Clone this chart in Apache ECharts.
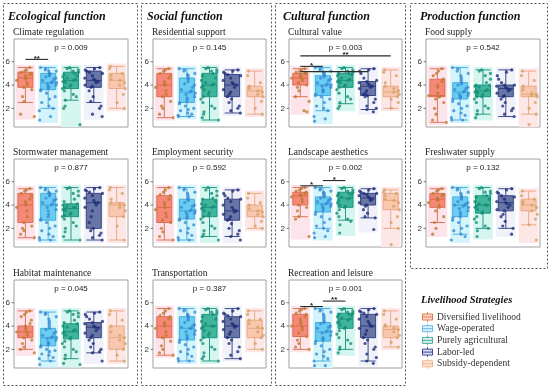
<!DOCTYPE html>
<html><head><meta charset="utf-8">
<script src="https://cdn.jsdelivr.net/npm/echarts@6/dist/echarts.min.js"></script>
<style>html,body{margin:0;padding:0;background:#fff}#c{width:550px;height:391px}</style>
</head><body><div id="c"></div>
<script>
// ---------------- DATA ----------------
const groupNames = ['Diversified livelihood','Wage-operated','Purely agricultural','Labor-led','Subsidy-dependent'];
const columnTitles = ['Ecological function','Social function','Cultural function','Production function'];
const panelTitles = ['Climate regulation','Stormwater management','Habitat maintenance','Residential support','Employment security','Transportation','Cultural value','Landscape aesthetics','Recreation and leisure','Food supply','Freshwater supply'];
const pValues = ['p = 0.009','p = 0.877','p = 0.045','p = 0.145','p = 0.592','p = 0.387','p = 0.003','p = 0.002','p = 0.001','p = 0.542','p = 0.132'];
const yTicks = [2,4,6];
const legendTitle = 'Livelihood Strategies';

const boxClimate = [[2.5,3.8,4.6,5.1,5.5],[2.0,3.6,4.2,5.0,5.5],[2.7,3.7,4.4,5.1,5.5],[2.5,3.8,4.4,5.2,5.5],[2.0,3.7,4.4,5.0,5.6]];
const ptsClimate = [
 [5.5,5.3,5.2,5.1,5.0,4.9,4.8,4.6,4.5,4.4,4.2,4.0,3.8,3.6,3.0,2.6,1.5,1.3],
 [5.5,5.4,5.3,5.2,5.2,5.0,5.0,4.9,4.8,4.7,4.6,4.5,4.4,4.3,4.2,4.2,4.1,4.0,3.9,3.8,3.7,3.6,3.5,3.3,3.0,2.8,2.5,2.2,2.0,1.8,1.3,1.0],
 [5.5,5.4,5.3,5.2,5.1,5.0,4.9,4.8,4.7,4.6,4.5,4.4,4.4,4.3,4.2,4.0,3.9,3.8,3.7,3.5,3.2,3.0,2.7,2.2,2.0,0.6],
 [5.5,5.4,5.3,5.2,5.1,5.0,4.8,4.6,4.5,4.4,4.3,4.2,4.0,3.9,3.8,3.5,3.0,2.6,2.2,2.0,1.5,1.3],
 [5.6,5.4,5.0,4.8,4.5,4.4,4.2,4.0,3.7,3.2,2.5,2.0]];
const sigClimate = [[0,1,6.2,'**']];

const boxStorm = [[1.2,2.5,4.0,5.0,5.4],[1.0,2.7,4.0,5.0,5.5],[1.0,3.0,3.7,4.1,5.5],[1.0,2.0,4.2,5.0,5.5],[1.0,3.0,4.0,4.2,5.5]];
const ptsStorm = [
 [5.4,5.3,5.2,5.0,4.8,4.5,4.3,4.1,4.0,3.8,3.5,3.0,2.5,2.2,2.0,1.8,1.5,1.2],
 [5.5,5.4,5.3,5.2,5.1,5.0,5.0,4.9,4.8,4.6,4.5,4.4,4.2,4.1,4.0,4.0,3.8,3.6,3.5,3.2,3.0,2.8,2.7,2.5,2.2,2.0,1.8,1.5,1.3,1.2,1.0,1.0],
 [5.5,5.4,5.2,5.0,4.8,4.5,4.3,4.1,4.0,3.9,3.8,3.8,3.7,3.6,3.5,3.3,3.2,3.1,3.0,2.8,2.5,2.2,2.0,1.7,1.3,1.0],
 [5.5,5.4,5.3,5.2,5.1,5.0,4.8,4.6,4.4,4.2,4.2,4.0,3.8,3.5,3.0,2.5,2.0,1.8,1.6,1.4,1.2,1.0],
 [5.5,5.3,5.0,4.5,4.2,4.1,4.0,3.8,3.5,3.0,2.2,1.0]];
const sigStorm = [];

const boxHabitat = [[2.0,3.0,3.5,4.0,5.3],[1.0,2.3,3.0,3.8,5.2],[1.2,2.9,3.5,4.2,5.3],[1.7,3.0,3.9,4.3,5.2],[1.0,2.0,3.0,4.0,5.3]];
const ptsHabitat = [
 [5.3,5.2,5.0,4.8,4.5,4.2,4.0,3.8,3.6,3.5,3.4,3.2,3.0,2.8,2.5,2.2,2.0,1.7],
 [5.2,5.1,5.0,4.8,4.6,4.4,4.2,4.0,3.8,3.7,3.5,3.4,3.2,3.1,3.0,3.0,2.9,2.8,2.6,2.5,2.4,2.3,2.2,2.0,1.9,1.8,1.6,1.5,1.3,1.2,1.0,0.7],
 [5.3,5.2,5.1,5.0,4.8,4.5,4.3,4.2,4.0,3.9,3.7,3.6,3.5,3.4,3.2,3.0,2.9,2.7,2.5,2.2,2.0,1.8,1.5,1.2,0.8,0.7],
 [5.2,5.1,5.0,4.8,4.6,4.4,4.3,4.2,4.0,3.9,3.8,3.6,3.4,3.2,3.0,2.8,2.5,2.2,2.0,1.8,1.7,1.0],
 [5.3,5.0,4.5,4.0,3.5,3.2,3.0,2.8,2.5,2.0,1.5,1.0]];
const sigHabitat = [];

const boxResidential = [[1.2,3.0,4.0,5.0,5.4],[1.3,2.5,3.4,4.6,5.4],[1.0,3.0,4.0,5.0,5.5],[1.6,3.0,4.0,4.9,5.3],[1.5,3.0,3.5,3.9,5.2]];
const ptsResidential = [
 [5.4,5.3,5.2,5.0,4.8,4.6,4.3,4.1,4.0,3.8,3.5,3.2,3.0,2.6,2.2,2.0,1.5,1.2],
 [5.4,5.3,5.2,5.0,4.9,4.8,4.6,4.5,4.3,4.1,4.0,3.8,3.6,3.5,3.4,3.3,3.2,3.0,2.9,2.8,2.6,2.5,2.4,2.2,2.0,1.9,1.8,1.6,1.5,1.4,1.3,1.3],
 [5.5,5.4,5.3,5.2,5.1,5.0,4.8,4.6,4.4,4.2,4.1,4.0,3.9,3.8,3.6,3.4,3.2,3.0,2.8,2.5,2.2,2.0,1.7,1.5,1.2,1.0],
 [5.3,5.2,5.1,5.0,4.9,4.8,4.6,4.4,4.2,4.1,4.0,3.8,3.6,3.4,3.2,3.0,2.8,2.5,2.2,2.0,1.8,1.6],
 [5.2,4.8,4.2,3.9,3.7,3.5,3.4,3.2,3.0,2.6,2.0,1.5]];
const sigResidential = [];

const boxEmployment = [[1.0,2.5,3.8,4.8,5.5],[1.0,2.8,3.5,4.5,5.5],[1.3,3.0,3.8,4.5,5.5],[1.3,2.7,3.5,4.5,5.3],[2.0,3.0,3.5,4.0,5.0]];
const ptsEmployment = [
 [5.5,5.3,5.1,4.9,4.8,4.5,4.2,4.0,3.8,3.6,3.3,3.0,2.7,2.5,2.0,1.7,1.3,1.0],
 [5.5,5.4,5.3,5.1,5.0,4.8,4.6,4.5,4.4,4.2,4.0,3.9,3.8,3.6,3.5,3.5,3.4,3.3,3.2,3.0,2.9,2.8,2.7,2.5,2.3,2.0,1.8,1.6,1.4,1.2,1.0,1.0],
 [5.5,5.3,5.2,5.0,4.8,4.6,4.5,4.3,4.1,4.0,3.9,3.8,3.8,3.7,3.5,3.3,3.1,3.0,2.8,2.5,2.2,2.0,1.8,1.5,1.3,1.0],
 [5.3,5.2,5.0,4.8,4.6,4.5,4.3,4.0,3.8,3.6,3.5,3.4,3.2,3.0,2.8,2.7,2.4,2.0,1.8,1.5,1.3,1.0],
 [5.0,4.6,4.2,4.0,3.7,3.5,3.4,3.2,3.0,2.6,2.2,2.0]];
const sigEmployment = [];

const boxTransport = [[1.5,3.0,4.0,4.8,5.5],[1.0,2.8,3.8,4.8,5.5],[1.0,3.0,4.0,5.0,5.5],[1.2,3.0,4.0,4.8,5.5],[2.0,3.0,3.8,4.5,5.3]];
const ptsTransport = [
 [5.5,5.3,5.1,4.9,4.8,4.6,4.3,4.1,4.0,3.8,3.5,3.2,3.0,2.7,2.3,2.0,1.7,1.5],
 [5.5,5.4,5.3,5.2,5.0,4.9,4.8,4.7,4.5,4.3,4.1,4.0,3.9,3.8,3.8,3.6,3.5,3.3,3.2,3.0,2.9,2.8,2.6,2.4,2.2,2.0,1.8,1.6,1.4,1.2,1.0,1.0],
 [5.5,5.4,5.3,5.2,5.1,5.0,4.8,4.6,4.4,4.2,4.0,4.0,3.9,3.8,3.6,3.4,3.2,3.0,2.8,2.5,2.2,2.0,1.7,1.4,1.2,1.0],
 [5.5,5.3,5.1,5.0,4.9,4.8,4.6,4.4,4.2,4.1,4.0,3.9,3.7,3.5,3.3,3.0,2.8,2.5,2.2,1.8,1.5,1.2],
 [5.3,5.0,4.6,4.5,4.2,3.9,3.8,3.5,3.2,3.0,2.5,2.0]];
const sigTransport = [];

const boxCultural = [[3.0,4.0,4.6,5.0,5.4],[1.8,3.1,4.0,4.8,5.5],[2.4,3.8,4.4,5.0,5.5],[1.9,3.1,3.9,4.3,5.4],[2.0,3.0,3.4,3.9,5.3]];
const ptsCultural = [
 [5.4,5.3,5.2,5.1,5.0,5.0,4.9,4.8,4.7,4.6,4.5,4.4,4.2,4.0,3.8,3.5,3.0,2.6,1.8,1.7],
 [5.5,5.4,5.3,5.2,5.1,5.0,4.9,4.8,4.7,4.6,4.5,4.4,4.2,4.1,4.0,4.0,3.9,3.8,3.6,3.5,3.4,3.2,3.1,3.0,2.8,2.5,2.2,2.0,1.8,1.3,1.1,0.9],
 [5.5,5.4,5.3,5.2,5.1,5.0,5.0,4.9,4.8,4.6,4.5,4.4,4.4,4.3,4.2,4.0,3.9,3.8,3.6,3.3,3.0,2.8,2.5,2.2,2.0],
 [5.4,5.3,5.2,5.0,4.6,4.4,4.3,4.2,4.1,4.0,3.9,3.8,3.7,3.5,3.3,3.2,3.1,3.0,2.8,2.5,2.2,2.0,1.9,1.7],
 [5.3,5.1,4.8,4.2,3.9,3.7,3.5,3.4,3.2,3.0,2.8,2.5,2.0]];
const sigCultural = [[0,3,5.15,''],[0,1,5.6,'*'],[0,4,6.5,'**']];

const boxLandscape = [[3.0,4.0,4.8,5.1,5.5],[2.0,3.4,4.1,4.7,5.5],[2.7,3.8,4.6,5.1,5.5],[2.9,4.0,4.6,5.0,5.4],[2.0,3.6,4.4,5.0,5.3]];
const ptsLandscape = [
 [5.5,5.4,5.3,5.2,5.1,5.0,4.9,4.8,4.8,4.7,4.5,4.3,4.0,3.8,3.5,3.0,2.8,1.3],
 [5.5,5.4,5.3,5.2,5.1,5.0,4.9,4.8,4.7,4.6,4.5,4.4,4.3,4.2,4.1,4.1,4.0,3.9,3.8,3.7,3.5,3.4,3.2,3.0,2.8,2.5,2.2,2.0,1.8,1.6,1.3,1.2],
 [5.5,5.4,5.3,5.2,5.1,5.0,5.0,4.9,4.8,4.7,4.6,4.5,4.4,4.2,4.0,3.9,3.8,3.6,3.3,3.0,2.8,2.6,2.3,1.6],
 [5.4,5.3,5.2,5.1,5.0,5.0,4.9,4.8,4.7,4.6,4.5,4.4,4.2,4.0,3.9,3.6,3.3,3.0,2.9,1.9],
 [5.3,5.1,5.0,4.8,4.5,4.4,4.2,3.9,3.6,3.0,2.5,2.0,0.6]];
const sigLandscape = [[0,1,5.65,'*'],[1,2,6.1,'*']];

const boxRecreation = [[2.0,3.1,4.0,5.0,5.5],[1.0,2.7,3.5,4.3,5.5],[2.0,3.8,4.6,5.1,5.5],[1.0,3.0,4.0,5.0,5.5],[2.2,3.0,3.7,4.0,5.3]];
const ptsRecreation = [
 [5.5,5.4,5.3,5.1,5.0,4.8,4.6,4.4,4.2,4.0,3.9,3.7,3.4,3.1,2.8,2.5,2.2,2.0],
 [5.5,5.4,5.3,5.2,5.0,4.8,4.6,4.4,4.3,4.2,4.0,3.9,3.8,3.6,3.5,3.5,3.4,3.2,3.0,2.9,2.8,2.7,2.5,2.3,2.0,1.8,1.6,1.4,1.2,1.0,0.6,0.6],
 [5.5,5.4,5.3,5.2,5.1,5.0,5.0,4.9,4.8,4.7,4.6,4.5,4.4,4.3,4.1,3.9,3.8,3.6,3.3,3.0,2.8,2.5,2.2,2.0,1.7],
 [5.5,5.4,5.3,5.2,5.1,5.0,4.8,4.6,4.4,4.2,4.0,4.0,3.8,3.6,3.3,3.0,2.8,2.5,2.2,2.0,1.6,1.3,1.0,0.8],
 [5.3,5.0,4.6,4.1,4.0,3.8,3.7,3.5,3.2,3.0,2.6,2.2]];
const sigRecreation = [[0,1,5.67,'*'],[1,2,6.14,'**']];

const boxFood = [[0.8,3.0,3.1,4.5,5.4],[1.0,2.8,3.4,4.2,5.5],[1.5,3.0,3.5,4.0,5.3],[1.3,3.0,3.7,4.0,5.3],[1.5,3.0,3.2,3.9,5.2]];
const ptsFood = [
 [5.4,5.2,5.0,4.8,4.5,4.3,4.0,3.8,3.3,3.1,3.0,3.0,2.8,2.5,2.0,1.5,1.0,0.8],
 [5.5,5.4,5.2,5.0,4.8,4.6,4.4,4.2,4.1,4.0,3.8,3.7,3.6,3.5,3.4,3.3,3.2,3.1,3.0,3.0,2.9,2.8,2.6,2.4,2.2,2.0,1.8,1.6,1.4,1.2,1.0,1.0],
 [5.3,5.2,5.0,4.8,4.5,4.2,4.0,4.0,3.9,3.8,3.6,3.5,3.5,3.4,3.3,3.2,3.0,3.0,2.8,2.5,2.2,2.0,1.8,1.5,1.2],
 [5.3,5.1,4.8,4.5,4.2,4.0,4.0,3.9,3.8,3.7,3.6,3.5,3.3,3.1,3.0,2.8,2.5,2.2,2.0,1.8,1.5,1.3],
 [5.2,4.8,4.4,3.9,3.6,3.3,3.2,3.1,3.0,2.5,2.0,1.5,0.6]];
const sigFood = [];

const boxFreshwater = [[2.5,3.8,4.5,5.0,5.4],[1.5,3.0,4.0,4.7,5.5],[2.0,3.3,4.0,4.8,5.5],[2.0,3.5,4.2,4.8,5.4],[2.3,3.5,4.0,4.5,5.2]];
const ptsFreshwater = [
 [5.4,5.3,5.2,5.0,4.9,4.8,4.6,4.5,4.4,4.2,4.0,3.8,3.5,3.0,2.5,2.0,1.5],
 [5.5,5.4,5.3,5.1,5.0,4.8,4.7,4.6,4.5,4.3,4.2,4.1,4.0,4.0,3.9,3.8,3.7,3.5,3.4,3.2,3.0,2.9,2.7,2.5,2.2,2.0,1.8,1.5,1.3,1.0],
 [5.5,5.4,5.2,5.1,5.0,4.8,4.7,4.5,4.3,4.1,4.0,4.0,3.9,3.8,3.6,3.4,3.3,3.0,2.8,2.5,2.2,2.0,1.8,1.3],
 [5.4,5.3,5.1,5.0,4.8,4.7,4.5,4.3,4.2,4.1,4.0,3.8,3.6,3.5,3.2,3.0,2.6,2.2,2.0,1.5],
 [5.2,4.8,4.5,4.3,4.1,4.0,3.8,3.5,3.2,2.8,2.3,1.0]];
const sigFreshwater = [];

// ---------------- STYLE / LAYOUT ----------------
const boxFill   = ['rgba(244,128,108,0.92)','rgba(86,196,238,0.85)','rgba(36,170,140,0.85)','rgba(80,96,150,0.85)','rgba(248,196,168,0.92)'];
const boxBorder = ['#d8694a','#3ea6dc','#14907a','#2c3a7e','#e7a47e'];
const ptColor   = ['#bf7a2e','#3a8ad6','#178d78','#1e2c7c','#d6a266'];
const bandColor = ['#fde3ea','#d3f4fb','#d4f6ef','#f1f2f9','#fde6e6'];
const legBorder = ['#e0703c','#62b6e6','#3aa896','#2b3b8c','#f0aa80'];
const legFill   = ['#fbd9cc','#d8eefa','#d6efea','#d8dcef','#fde5d6'];

const panels = [
 {box:boxClimate, pts:ptsClimate, sig:sigClimate},
 {box:boxStorm, pts:ptsStorm, sig:sigStorm},
 {box:boxHabitat, pts:ptsHabitat, sig:sigHabitat},
 {box:boxResidential, pts:ptsResidential, sig:sigResidential},
 {box:boxEmployment, pts:ptsEmployment, sig:sigEmployment},
 {box:boxTransport, pts:ptsTransport, sig:sigTransport},
 {box:boxCultural, pts:ptsCultural, sig:sigCultural},
 {box:boxLandscape, pts:ptsLandscape, sig:sigLandscape},
 {box:boxRecreation, pts:ptsRecreation, sig:sigRecreation},
 {box:boxFood, pts:ptsFood, sig:sigFood},
 {box:boxFreshwater, pts:ptsFreshwater, sig:sigFreshwater}
];
const panelCol = [0,0,0,1,1,1,2,2,2,3,3];
const panelRow = [0,1,2,0,1,2,0,1,2,0,1];
const colLeft = [14,153,289,426];
const colWidth = [114,113,113,114];
const rowTop = [39,159,280];
const plotH = 88;
const Y_MIN = 0.4, Y_MAX = 7.95;

const serif = '"Liberation Serif","Times New Roman",serif';
const sans = '"Liberation Sans",Arial,sans-serif';

// deterministic horizontal jitter (position only, not data)
function jit(k, g){ const s = Math.sin((k + 1) * 12.9898 + (g + 1) * 78.233) * 43758.5453; return ((s - Math.floor(s)) - 0.5) * 0.8; }

const grid = [], xAxis = [], yAxis = [], series = [], graphic = [];

panels.forEach((p, k) => {
  const L = colLeft[panelCol[k]], T = rowTop[panelRow[k]], W = colWidth[panelCol[k]];
  grid.push({left:L, top:T, width:W, height:plotH, show:true, borderColor:'#a0a0a0', borderWidth:1, backgroundColor:'#fff'});
  xAxis.push({type:'category', gridIndex:k, data:groupNames, show:false});
  xAxis.push({type:'value', gridIndex:k, min:-0.5, max:4.5, show:false});
  yAxis.push({type:'value', gridIndex:k, min:Y_MIN, max:Y_MAX,
    splitLine:{show:false}, axisLine:{show:false}, axisTick:{show:false},
    axisLabel:{customValues:yTicks, fontSize:8, color:'#333', margin:4, fontFamily:sans}});
  // y tick marks at the left edge of the panel
  series.push({type:'custom', xAxisIndex:2*k+1, yAxisIndex:k, silent:true, clip:false, z:6,
    data:yTicks.map(v => [-0.5, v]),
    renderItem:(params, api) => {
      const c = api.coord([api.value(0), api.value(1)]);
      return {type:'line', shape:{x1:c[0] - 2.5, y1:c[1], x2:c[0], y2:c[1]}, style:{stroke:'#555', lineWidth:0.8}};
    }});
  // background bands spanning each group's data range
  const bands = p.pts.map((arr, g) => [g, Math.max(Y_MIN, Math.min(...arr) - 0.25), Math.min(Y_MAX, Math.max(...arr) + 0.25)]);
  series.push({type:'custom', xAxisIndex:2*k+1, yAxisIndex:k, silent:true, data:bands,
    renderItem:(params, api) => {
      const g = api.value(0);
      const a = api.coord([g - 0.43, api.value(2)]), b = api.coord([g + 0.43, api.value(1)]);
      return {type:'rect', shape:{x:a[0], y:a[1], width:b[0]-a[0], height:b[1]-a[1]}, style:{fill:bandColor[g]}};
    }});
  series.push({type:'boxplot', xAxisIndex:2*k, yAxisIndex:k, silent:true, boxWidth:[15,15],
    data:p.box.map((v, g) => ({value:v, itemStyle:{color:boxFill[g], borderColor:boxBorder[g], borderWidth:0.9}}))});
  const pts = [];
  p.pts.forEach((arr, g) => arr.forEach((y, i) => pts.push({value:[g + jit(i, g), y], itemStyle:{color:ptColor[g]}})));
  series.push({type:'scatter', xAxisIndex:2*k+1, yAxisIndex:k, silent:true, symbolSize:3.2, data:pts});
  if (p.sig.length) {
    const sig = p.sig;
    series.push({type:'custom', xAxisIndex:2*k+1, yAxisIndex:k, silent:true, z:5,
      data:sig.map(s => [s[0], s[1], s[2]]),
      renderItem:(params, api) => {
        const a = api.coord([api.value(0), api.value(2)]), b = api.coord([api.value(1), api.value(2)]);
        const lab = sig[params.dataIndex][3];
        return {type:'group', children:[
          {type:'line', shape:{x1:a[0], y1:a[1], x2:b[0], y2:b[1]}, style:{stroke:'#2b2b2b', lineWidth:1.1}},
          {type:'text', style:{text:lab, x:(a[0]+b[0])/2, y:a[1]+3, align:'center', verticalAlign:'bottom', font:'bold 8px ' + sans, fill:'#222'}}
        ]};
      }});
  }
  graphic.push({type:'text', x:L - 1, y:T - 7, style:{text:panelTitles[k], font:'9.5px ' + serif, fill:'#222', verticalAlign:'middle'}});
  graphic.push({type:'text', x:L + W/2, y:T + 9, style:{text:pValues[k], font:'8px ' + sans, fill:'#222', align:'center', verticalAlign:'middle'}});
});

const frames = [[3,3,134,382],[141,3,130,382],[275,3,130,382],[410,3,137,265]];
frames.forEach((f, c) => {
  graphic.push({type:'rect', shape:{x:f[0]+0.5, y:f[1]+0.5, width:f[2], height:f[3]}, style:{fill:'none', stroke:'#555', lineWidth:1, lineDash:[2,2]}});
  graphic.push({type:'text', x:colLeft[c] - 6, y:17, style:{text:columnTitles[c], font:'italic bold 12px ' + serif, fill:'#111', verticalAlign:'middle'}});
});

graphic.push({type:'text', x:421, y:300, style:{text:legendTitle, font:'italic bold 10.5px ' + serif, fill:'#111', verticalAlign:'middle'}});
groupNames.forEach((n, g) => {
  const y = 317 + g * 11.7;
  graphic.push({type:'line', shape:{x1:427.5, y1:y - 5, x2:427.5, y2:y + 5}, style:{stroke:legBorder[g], lineWidth:0.8}});
  graphic.push({type:'rect', shape:{x:422.5, y:y - 3, width:10, height:6}, style:{fill:legFill[g], stroke:legBorder[g], lineWidth:0.9}});
  graphic.push({type:'line', shape:{x1:422.5, y1:y, x2:432.5, y2:y}, style:{stroke:legBorder[g], lineWidth:0.9}});
  graphic.push({type:'text', x:437, y:y, style:{text:n, font:'9.5px ' + serif, fill:'#333', verticalAlign:'middle'}});
});

const chart = echarts.init(document.getElementById('c'), null, {renderer:'canvas'});
chart.setOption({animation:false, grid, xAxis, yAxis, series, graphic});
</script>
</body></html>
